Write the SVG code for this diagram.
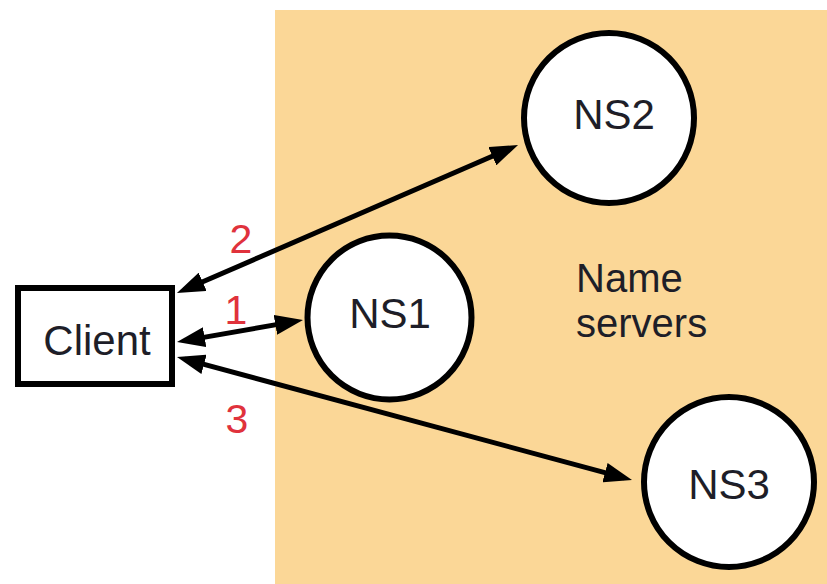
<svg xmlns="http://www.w3.org/2000/svg" width="827" height="584" viewBox="0 0 827 584">
  <style>
    .lbl { font-family: "Liberation Sans", Arial, sans-serif; font-size: 42px; fill: #1e1e28; }
    .zone-lbl { font-family: "Liberation Sans", Arial, sans-serif; font-size: 40px; fill: #1e1e28; }
    .num { font-family: "Liberation Sans", Arial, sans-serif; font-size: 41px; fill: #e0323c; text-anchor: middle; }
    .node { fill: #ffffff; stroke: #000000; stroke-width: 6; }
    .link { stroke: #000000; stroke-width: 5; fill: none; marker-start: url(#head); marker-end: url(#head); }
  </style>
  <defs>
    <marker id="head" viewBox="0 0 28 20" refX="20" refY="10" markerWidth="28" markerHeight="20" markerUnits="userSpaceOnUse" orient="auto-start-reverse">
      <path d="M0,0 L28,10 L0,20 z" fill="#000000"/>
    </marker>
  </defs>

  <rect width="827" height="584" fill="#ffffff"/>

  <!-- name server zone -->
  <g id="zone">
    <rect x="275" y="10" width="552" height="574" fill="#fbd797"/>
    <text class="zone-lbl" x="576" y="292">Name</text>
    <text class="zone-lbl" x="576" y="337">servers</text>
  </g>

  <!-- connectors -->
  <g id="connectors">
    <line class="link" x1="184.3" y1="289.8" x2="510.7" y2="148.2"/>
    <line class="link" x1="184.9" y1="340.6" x2="295.1" y2="321.4"/>
    <line class="link" x1="184.7" y1="359.1" x2="624.3" y2="477.9"/>
    <text class="num" x="241" y="253">2</text>
    <text class="num" x="236" y="324">1</text>
    <text class="num" x="237" y="433">3</text>
  </g>

  <g id="client">
    <rect class="node" x="18" y="288" width="154" height="96"/>
    <text class="lbl" x="97" y="355" text-anchor="middle">Client</text>
  </g>

  <g id="ns1">
    <circle class="node" cx="389.5" cy="317.5" r="82"/>
    <text class="lbl" x="390" y="328" text-anchor="middle">NS1</text>
  </g>

  <g id="ns2">
    <circle class="node" cx="609" cy="118" r="85"/>
    <text class="lbl" x="614" y="129" text-anchor="middle">NS2</text>
  </g>

  <g id="ns3">
    <circle class="node" cx="729" cy="482" r="85"/>
    <text class="lbl" x="729" y="499" text-anchor="middle">NS3</text>
  </g>
</svg>
